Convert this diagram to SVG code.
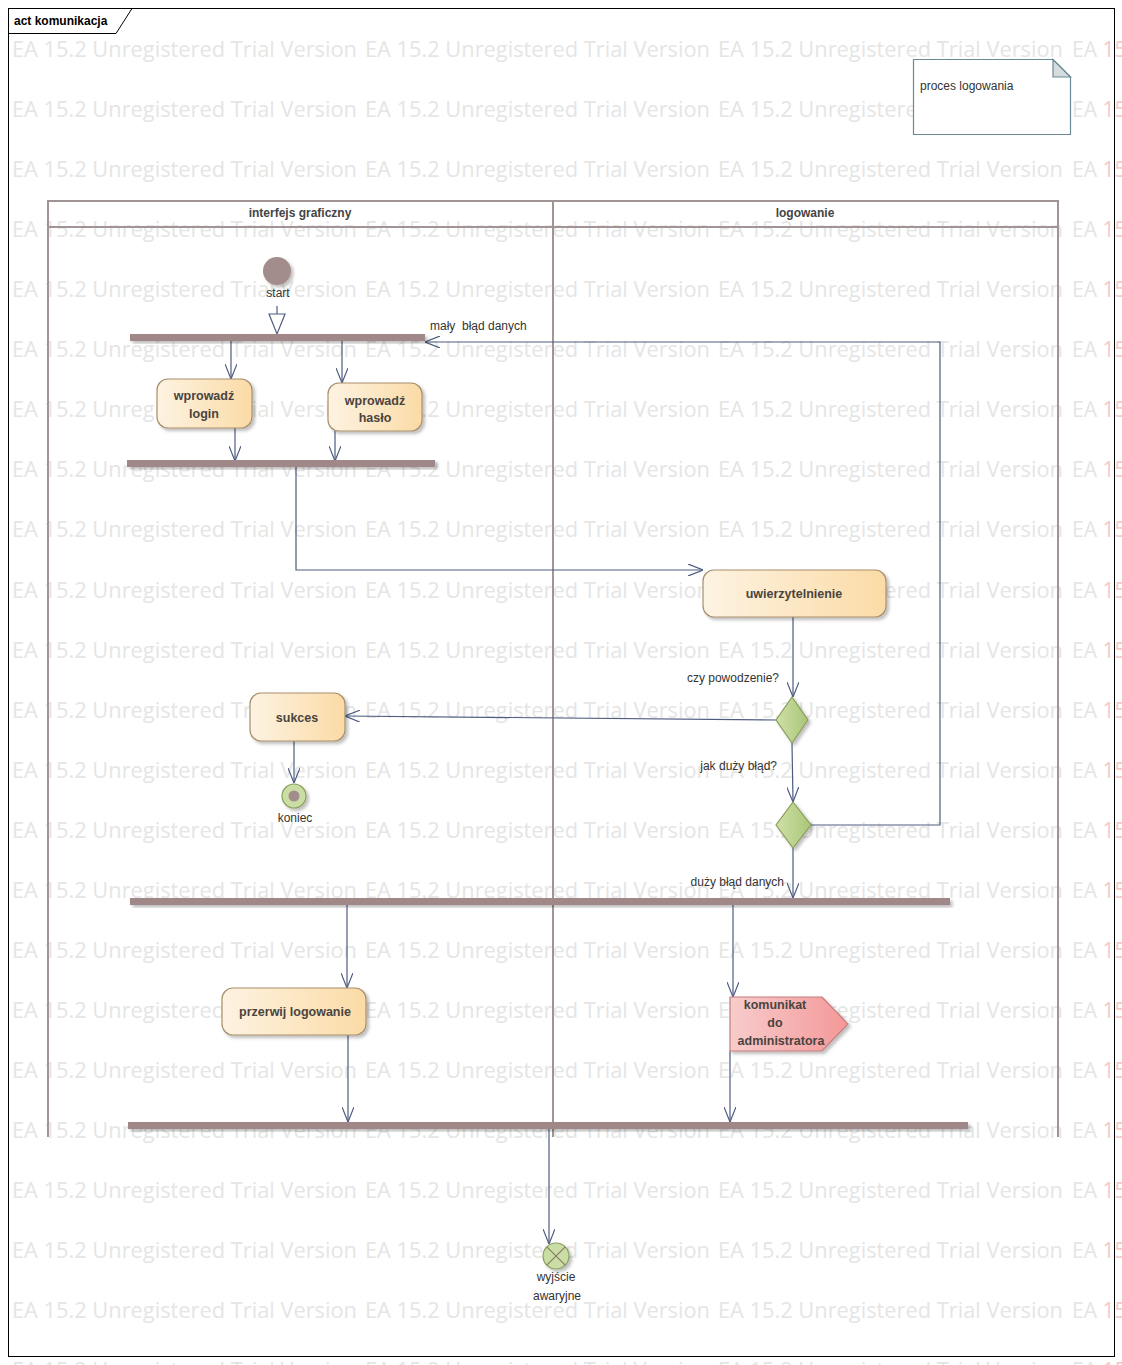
<svg xmlns="http://www.w3.org/2000/svg" width="1122" height="1365" viewBox="0 0 1122 1365">
<style>
.wm{font-family:"Open Sans","Liberation Sans",sans-serif;font-size:21px;fill:#e5e5e5}
.t{font-family:"Liberation Sans",Arial,sans-serif;font-size:12px;fill:#333}
.b{font-family:"Liberation Sans",Arial,sans-serif;font-size:12.5px;font-weight:bold;fill:#4a4440}
.act{fill:url(#ga);stroke:#a8906c;stroke-width:1.2;filter:url(#sh)}
.bar{fill:#a08888;filter:url(#sh)}
.dec{fill:url(#gd);stroke:#8a9c5a;stroke-width:1.2;filter:url(#sh)}
.c{fill:none;stroke:#4e5c80;stroke-width:1.2}
.ca{fill:none;stroke:#4e5c80;stroke-width:1.2;marker-end:url(#ar)}
.lane{fill:none;stroke:#a09494;stroke-width:2}
</style>
<defs>
<linearGradient id="ga" x1="0" y1="0" x2="1" y2="0"><stop offset="0" stop-color="#fdf3e2"/><stop offset="1" stop-color="#fbdba6"/></linearGradient>
<linearGradient id="gd" x1="0" y1="0" x2="1" y2="0"><stop offset="0" stop-color="#cfe0a8"/><stop offset="1" stop-color="#a9c678"/></linearGradient>
<linearGradient id="gp" x1="0" y1="0" x2="1" y2="0"><stop offset="0" stop-color="#f8cccc"/><stop offset="1" stop-color="#f49898"/></linearGradient>
<filter id="sh" x="-10%" y="-20%" width="130%" height="160%"><feDropShadow dx="2.5" dy="2.5" stdDeviation="1.5" flood-color="#000" flood-opacity="0.25"/></filter>
<marker id="ar" viewBox="0 0 15 12" refX="15" refY="6" markerWidth="15" markerHeight="12" markerUnits="userSpaceOnUse" orient="auto"><path d="M0,0 L15,6 L0,12" fill="none" stroke="#4e5c80" stroke-width="1.2"/></marker>
</defs>
<rect width="1122" height="1365" fill="#fff"/>
<g id="watermark">
<text class="wm" y="57"><tspan x="12" textLength="345" lengthAdjust="spacingAndGlyphs">EA 15.2 Unregistered Trial Version</tspan><tspan x="365" textLength="345" lengthAdjust="spacingAndGlyphs">EA 15.2 Unregistered Trial Version</tspan><tspan x="718" textLength="345" lengthAdjust="spacingAndGlyphs">EA 15.2 Unregistered Trial Version</tspan><tspan x="1072">EA </tspan><tspan fill="#f2caca">15</tspan></text>
<text class="wm" y="117"><tspan x="12" textLength="345" lengthAdjust="spacingAndGlyphs">EA 15.2 Unregistered Trial Version</tspan><tspan x="365" textLength="345" lengthAdjust="spacingAndGlyphs">EA 15.2 Unregistered Trial Version</tspan><tspan x="718" textLength="345" lengthAdjust="spacingAndGlyphs">EA 15.2 Unregistered Trial Version</tspan><tspan x="1072">EA </tspan><tspan fill="#f2caca">15</tspan></text>
<text class="wm" y="177"><tspan x="12" textLength="345" lengthAdjust="spacingAndGlyphs">EA 15.2 Unregistered Trial Version</tspan><tspan x="365" textLength="345" lengthAdjust="spacingAndGlyphs">EA 15.2 Unregistered Trial Version</tspan><tspan x="718" textLength="345" lengthAdjust="spacingAndGlyphs">EA 15.2 Unregistered Trial Version</tspan><tspan x="1072">EA </tspan><tspan fill="#f2caca">15</tspan></text>
<text class="wm" y="237"><tspan x="12" textLength="345" lengthAdjust="spacingAndGlyphs">EA 15.2 Unregistered Trial Version</tspan><tspan x="365" textLength="345" lengthAdjust="spacingAndGlyphs">EA 15.2 Unregistered Trial Version</tspan><tspan x="718" textLength="345" lengthAdjust="spacingAndGlyphs">EA 15.2 Unregistered Trial Version</tspan><tspan x="1072">EA </tspan><tspan fill="#f2caca">15</tspan></text>
<text class="wm" y="297"><tspan x="12" textLength="345" lengthAdjust="spacingAndGlyphs">EA 15.2 Unregistered Trial Version</tspan><tspan x="365" textLength="345" lengthAdjust="spacingAndGlyphs">EA 15.2 Unregistered Trial Version</tspan><tspan x="718" textLength="345" lengthAdjust="spacingAndGlyphs">EA 15.2 Unregistered Trial Version</tspan><tspan x="1072">EA </tspan><tspan fill="#f2caca">15</tspan></text>
<text class="wm" y="357"><tspan x="12" textLength="345" lengthAdjust="spacingAndGlyphs">EA 15.2 Unregistered Trial Version</tspan><tspan x="365" textLength="345" lengthAdjust="spacingAndGlyphs">EA 15.2 Unregistered Trial Version</tspan><tspan x="718" textLength="345" lengthAdjust="spacingAndGlyphs">EA 15.2 Unregistered Trial Version</tspan><tspan x="1072">EA </tspan><tspan fill="#f2caca">15</tspan></text>
<text class="wm" y="417"><tspan x="12" textLength="345" lengthAdjust="spacingAndGlyphs">EA 15.2 Unregistered Trial Version</tspan><tspan x="365" textLength="345" lengthAdjust="spacingAndGlyphs">EA 15.2 Unregistered Trial Version</tspan><tspan x="718" textLength="345" lengthAdjust="spacingAndGlyphs">EA 15.2 Unregistered Trial Version</tspan><tspan x="1072">EA </tspan><tspan fill="#f2caca">15</tspan></text>
<text class="wm" y="477"><tspan x="12" textLength="345" lengthAdjust="spacingAndGlyphs">EA 15.2 Unregistered Trial Version</tspan><tspan x="365" textLength="345" lengthAdjust="spacingAndGlyphs">EA 15.2 Unregistered Trial Version</tspan><tspan x="718" textLength="345" lengthAdjust="spacingAndGlyphs">EA 15.2 Unregistered Trial Version</tspan><tspan x="1072">EA </tspan><tspan fill="#f2caca">15</tspan></text>
<text class="wm" y="537"><tspan x="12" textLength="345" lengthAdjust="spacingAndGlyphs">EA 15.2 Unregistered Trial Version</tspan><tspan x="365" textLength="345" lengthAdjust="spacingAndGlyphs">EA 15.2 Unregistered Trial Version</tspan><tspan x="718" textLength="345" lengthAdjust="spacingAndGlyphs">EA 15.2 Unregistered Trial Version</tspan><tspan x="1072">EA </tspan><tspan fill="#f2caca">15</tspan></text>
<text class="wm" y="598"><tspan x="12" textLength="345" lengthAdjust="spacingAndGlyphs">EA 15.2 Unregistered Trial Version</tspan><tspan x="365" textLength="345" lengthAdjust="spacingAndGlyphs">EA 15.2 Unregistered Trial Version</tspan><tspan x="718" textLength="345" lengthAdjust="spacingAndGlyphs">EA 15.2 Unregistered Trial Version</tspan><tspan x="1072">EA </tspan><tspan fill="#f2caca">15</tspan></text>
<text class="wm" y="658"><tspan x="12" textLength="345" lengthAdjust="spacingAndGlyphs">EA 15.2 Unregistered Trial Version</tspan><tspan x="365" textLength="345" lengthAdjust="spacingAndGlyphs">EA 15.2 Unregistered Trial Version</tspan><tspan x="718" textLength="345" lengthAdjust="spacingAndGlyphs">EA 15.2 Unregistered Trial Version</tspan><tspan x="1072">EA </tspan><tspan fill="#f2caca">15</tspan></text>
<text class="wm" y="718"><tspan x="12" textLength="345" lengthAdjust="spacingAndGlyphs">EA 15.2 Unregistered Trial Version</tspan><tspan x="365" textLength="345" lengthAdjust="spacingAndGlyphs">EA 15.2 Unregistered Trial Version</tspan><tspan x="718" textLength="345" lengthAdjust="spacingAndGlyphs">EA 15.2 Unregistered Trial Version</tspan><tspan x="1072">EA </tspan><tspan fill="#f2caca">15</tspan></text>
<text class="wm" y="778"><tspan x="12" textLength="345" lengthAdjust="spacingAndGlyphs">EA 15.2 Unregistered Trial Version</tspan><tspan x="365" textLength="345" lengthAdjust="spacingAndGlyphs">EA 15.2 Unregistered Trial Version</tspan><tspan x="718" textLength="345" lengthAdjust="spacingAndGlyphs">EA 15.2 Unregistered Trial Version</tspan><tspan x="1072">EA </tspan><tspan fill="#f2caca">15</tspan></text>
<text class="wm" y="838"><tspan x="12" textLength="345" lengthAdjust="spacingAndGlyphs">EA 15.2 Unregistered Trial Version</tspan><tspan x="365" textLength="345" lengthAdjust="spacingAndGlyphs">EA 15.2 Unregistered Trial Version</tspan><tspan x="718" textLength="345" lengthAdjust="spacingAndGlyphs">EA 15.2 Unregistered Trial Version</tspan><tspan x="1072">EA </tspan><tspan fill="#f2caca">15</tspan></text>
<text class="wm" y="898"><tspan x="12" textLength="345" lengthAdjust="spacingAndGlyphs">EA 15.2 Unregistered Trial Version</tspan><tspan x="365" textLength="345" lengthAdjust="spacingAndGlyphs">EA 15.2 Unregistered Trial Version</tspan><tspan x="718" textLength="345" lengthAdjust="spacingAndGlyphs">EA 15.2 Unregistered Trial Version</tspan><tspan x="1072">EA </tspan><tspan fill="#f2caca">15</tspan></text>
<text class="wm" y="958"><tspan x="12" textLength="345" lengthAdjust="spacingAndGlyphs">EA 15.2 Unregistered Trial Version</tspan><tspan x="365" textLength="345" lengthAdjust="spacingAndGlyphs">EA 15.2 Unregistered Trial Version</tspan><tspan x="718" textLength="345" lengthAdjust="spacingAndGlyphs">EA 15.2 Unregistered Trial Version</tspan><tspan x="1072">EA </tspan><tspan fill="#f2caca">15</tspan></text>
<text class="wm" y="1018"><tspan x="12" textLength="345" lengthAdjust="spacingAndGlyphs">EA 15.2 Unregistered Trial Version</tspan><tspan x="365" textLength="345" lengthAdjust="spacingAndGlyphs">EA 15.2 Unregistered Trial Version</tspan><tspan x="718" textLength="345" lengthAdjust="spacingAndGlyphs">EA 15.2 Unregistered Trial Version</tspan><tspan x="1072">EA </tspan><tspan fill="#f2caca">15</tspan></text>
<text class="wm" y="1078"><tspan x="12" textLength="345" lengthAdjust="spacingAndGlyphs">EA 15.2 Unregistered Trial Version</tspan><tspan x="365" textLength="345" lengthAdjust="spacingAndGlyphs">EA 15.2 Unregistered Trial Version</tspan><tspan x="718" textLength="345" lengthAdjust="spacingAndGlyphs">EA 15.2 Unregistered Trial Version</tspan><tspan x="1072">EA </tspan><tspan fill="#f2caca">15</tspan></text>
<text class="wm" y="1138"><tspan x="12" textLength="345" lengthAdjust="spacingAndGlyphs">EA 15.2 Unregistered Trial Version</tspan><tspan x="365" textLength="345" lengthAdjust="spacingAndGlyphs">EA 15.2 Unregistered Trial Version</tspan><tspan x="718" textLength="345" lengthAdjust="spacingAndGlyphs">EA 15.2 Unregistered Trial Version</tspan><tspan x="1072">EA </tspan><tspan fill="#f2caca">15</tspan></text>
<text class="wm" y="1198"><tspan x="12" textLength="345" lengthAdjust="spacingAndGlyphs">EA 15.2 Unregistered Trial Version</tspan><tspan x="365" textLength="345" lengthAdjust="spacingAndGlyphs">EA 15.2 Unregistered Trial Version</tspan><tspan x="718" textLength="345" lengthAdjust="spacingAndGlyphs">EA 15.2 Unregistered Trial Version</tspan><tspan x="1072">EA </tspan><tspan fill="#f2caca">15</tspan></text>
<text class="wm" y="1258"><tspan x="12" textLength="345" lengthAdjust="spacingAndGlyphs">EA 15.2 Unregistered Trial Version</tspan><tspan x="365" textLength="345" lengthAdjust="spacingAndGlyphs">EA 15.2 Unregistered Trial Version</tspan><tspan x="718" textLength="345" lengthAdjust="spacingAndGlyphs">EA 15.2 Unregistered Trial Version</tspan><tspan x="1072">EA </tspan><tspan fill="#f2caca">15</tspan></text>
<text class="wm" y="1318"><tspan x="12" textLength="345" lengthAdjust="spacingAndGlyphs">EA 15.2 Unregistered Trial Version</tspan><tspan x="365" textLength="345" lengthAdjust="spacingAndGlyphs">EA 15.2 Unregistered Trial Version</tspan><tspan x="718" textLength="345" lengthAdjust="spacingAndGlyphs">EA 15.2 Unregistered Trial Version</tspan><tspan x="1072">EA </tspan><tspan fill="#f2caca">15</tspan></text>
<text class="wm" y="1378"><tspan x="12" textLength="345" lengthAdjust="spacingAndGlyphs">EA 15.2 Unregistered Trial Version</tspan><tspan x="365" textLength="345" lengthAdjust="spacingAndGlyphs">EA 15.2 Unregistered Trial Version</tspan><tspan x="718" textLength="345" lengthAdjust="spacingAndGlyphs">EA 15.2 Unregistered Trial Version</tspan><tspan x="1072">EA </tspan><tspan fill="#f2caca">15</tspan></text>
</g>
<g id="frame">
<rect x="8.5" y="8.5" width="1106" height="1348" fill="none" stroke="#000" stroke-width="1"/>
<path d="M8.5,33.5 H116 L132,8.5" fill="none" stroke="#000" stroke-width="1"/>
<text class="t" x="14" y="25" style="font-weight:bold;fill:#000">act komunikacja</text>
</g>
<g id="lanes">
<path class="lane" d="M48,1137 V201 H1058 V1137 M48,227 H1058 M553,201 V1137"/>
<text class="t" x="300" y="217" text-anchor="middle" style="font-weight:bold;fill:#444">interfejs graficzny</text>
<text class="t" x="805" y="217" text-anchor="middle" style="font-weight:bold;fill:#444">logowanie</text>
</g>
<g id="note">
<path d="M913.5,59.5 H1053 L1070.5,77 V134.5 H913.5 Z" fill="#fff" stroke="#6a8a96" stroke-width="1.2"/>
<path d="M1053,59.5 V77 H1070.5 Z" fill="#d6dbdd" stroke="#6a8a96" stroke-width="1.2"/>
<text class="t" x="920" y="90">proces logowania</text>
</g>
<g id="connectors">
<path class="c" d="M277,306 V314"/>
<polygon points="269,314 285,314 277,334" fill="#fff" stroke="#4e5c80" stroke-width="1.2"/>
<path class="ca" d="M231,341 V379"/>
<path class="ca" d="M342,341 V383"/>
<path class="ca" d="M235,428 V461"/>
<path class="ca" d="M335,431 V461"/>
<path class="ca" d="M296,467 V570 H703"/>
<path class="ca" d="M793,617 V697"/>
<path class="ca" d="M776,720 L345,716"/>
<path class="ca" d="M294,741 V783"/>
<path class="ca" d="M792,743 L793,802"/>
<path class="ca" d="M811,825 H940 V342 H425"/>
<path class="ca" d="M793,848 V898"/>
<path class="ca" d="M347,905 V988"/>
<path class="ca" d="M733,905 V997"/>
<path class="ca" d="M348,1035 V1122"/>
<path class="ca" d="M730,1051 V1122"/>
<path class="ca" d="M549,1129 V1244"/>
<text class="t" x="430" y="330" style="white-space:pre">mały  błąd danych</text>
<text class="t" x="779" y="682" text-anchor="end">czy powodzenie?</text>
<text class="t" x="777" y="770" text-anchor="end">jak duży błąd?</text>
<text class="t" x="784" y="886" text-anchor="end">duży błąd danych</text>
</g>
<g id="start">
<circle cx="277" cy="271" r="14" fill="#a38c8c" filter="url(#sh)"/>
<text class="t" x="278" y="297" text-anchor="middle">start</text>
</g>
<g id="fork1"><rect class="bar" x="130" y="334" width="295" height="7"/></g>
<g id="wprowadz_login">
<rect class="act" x="157" y="379" width="95" height="49" rx="11"/>
<text class="b" x="204" y="400" text-anchor="middle">wprowadź</text>
<text class="b" x="204" y="418" text-anchor="middle">login</text>
</g>
<g id="wprowadz_haslo">
<rect class="act" x="328" y="383" width="94" height="48" rx="11"/>
<text class="b" x="375" y="405" text-anchor="middle">wprowadź</text>
<text class="b" x="375" y="422" text-anchor="middle">hasło</text>
</g>
<g id="join1"><rect class="bar" x="127" y="460" width="308" height="7"/></g>
<g id="uwierzytelnienie">
<rect class="act" x="703" y="570" width="183" height="47" rx="11"/>
<text class="b" x="794" y="598" text-anchor="middle">uwierzytelnienie</text>
</g>
<g id="decision1"><polygon class="dec" points="792,697 808,720 792,743 776,720"/></g>
<g id="sukces">
<rect class="act" x="250" y="693" width="95" height="48" rx="11"/>
<text class="b" x="297" y="722" text-anchor="middle">sukces</text>
</g>
<g id="koniec">
<circle cx="294" cy="796" r="12" fill="#c9dda4" stroke="#8aa05c" stroke-width="1.2" filter="url(#sh)"/>
<circle cx="294" cy="796" r="5.5" fill="#a38c8c"/>
<text class="t" x="295" y="822" text-anchor="middle">koniec</text>
</g>
<g id="decision2"><polygon class="dec" points="793,802 811,825 793,848 776,825"/></g>
<g id="fork2"><rect class="bar" x="130" y="898" width="820" height="7"/></g>
<g id="przerwij_logowanie">
<rect class="act" x="222" y="988" width="144" height="47" rx="11"/>
<text class="b" x="295" y="1016" text-anchor="middle">przerwij logowanie</text>
</g>
<g id="komunikat">
<polygon points="730,997 822,997 848,1024 822,1051 730,1051" fill="url(#gp)" stroke="#c47c7c" stroke-width="1.2" filter="url(#sh)"/>
<text class="b" x="775" y="1009" text-anchor="middle">komunikat</text>
<text class="b" x="775" y="1027" text-anchor="middle">do</text>
<text class="b" x="781" y="1045" text-anchor="middle">administratora</text>
</g>
<g id="join2"><rect class="bar" x="128" y="1122" width="840" height="7"/></g>
<g id="wyjscie_awaryjne">
<circle cx="556" cy="1256" r="13" fill="#c9dda4" stroke="#8aa05c" stroke-width="1.2" filter="url(#sh)"/>
<path d="M546.8,1246.8 L565.2,1265.2 M565.2,1246.8 L546.8,1265.2" stroke="#8a7a6a" stroke-width="1.2"/>
<text class="t" x="556" y="1281" text-anchor="middle">wyjście</text>
<text class="t" x="557" y="1300" text-anchor="middle">awaryjne</text>
</g>
</svg>
